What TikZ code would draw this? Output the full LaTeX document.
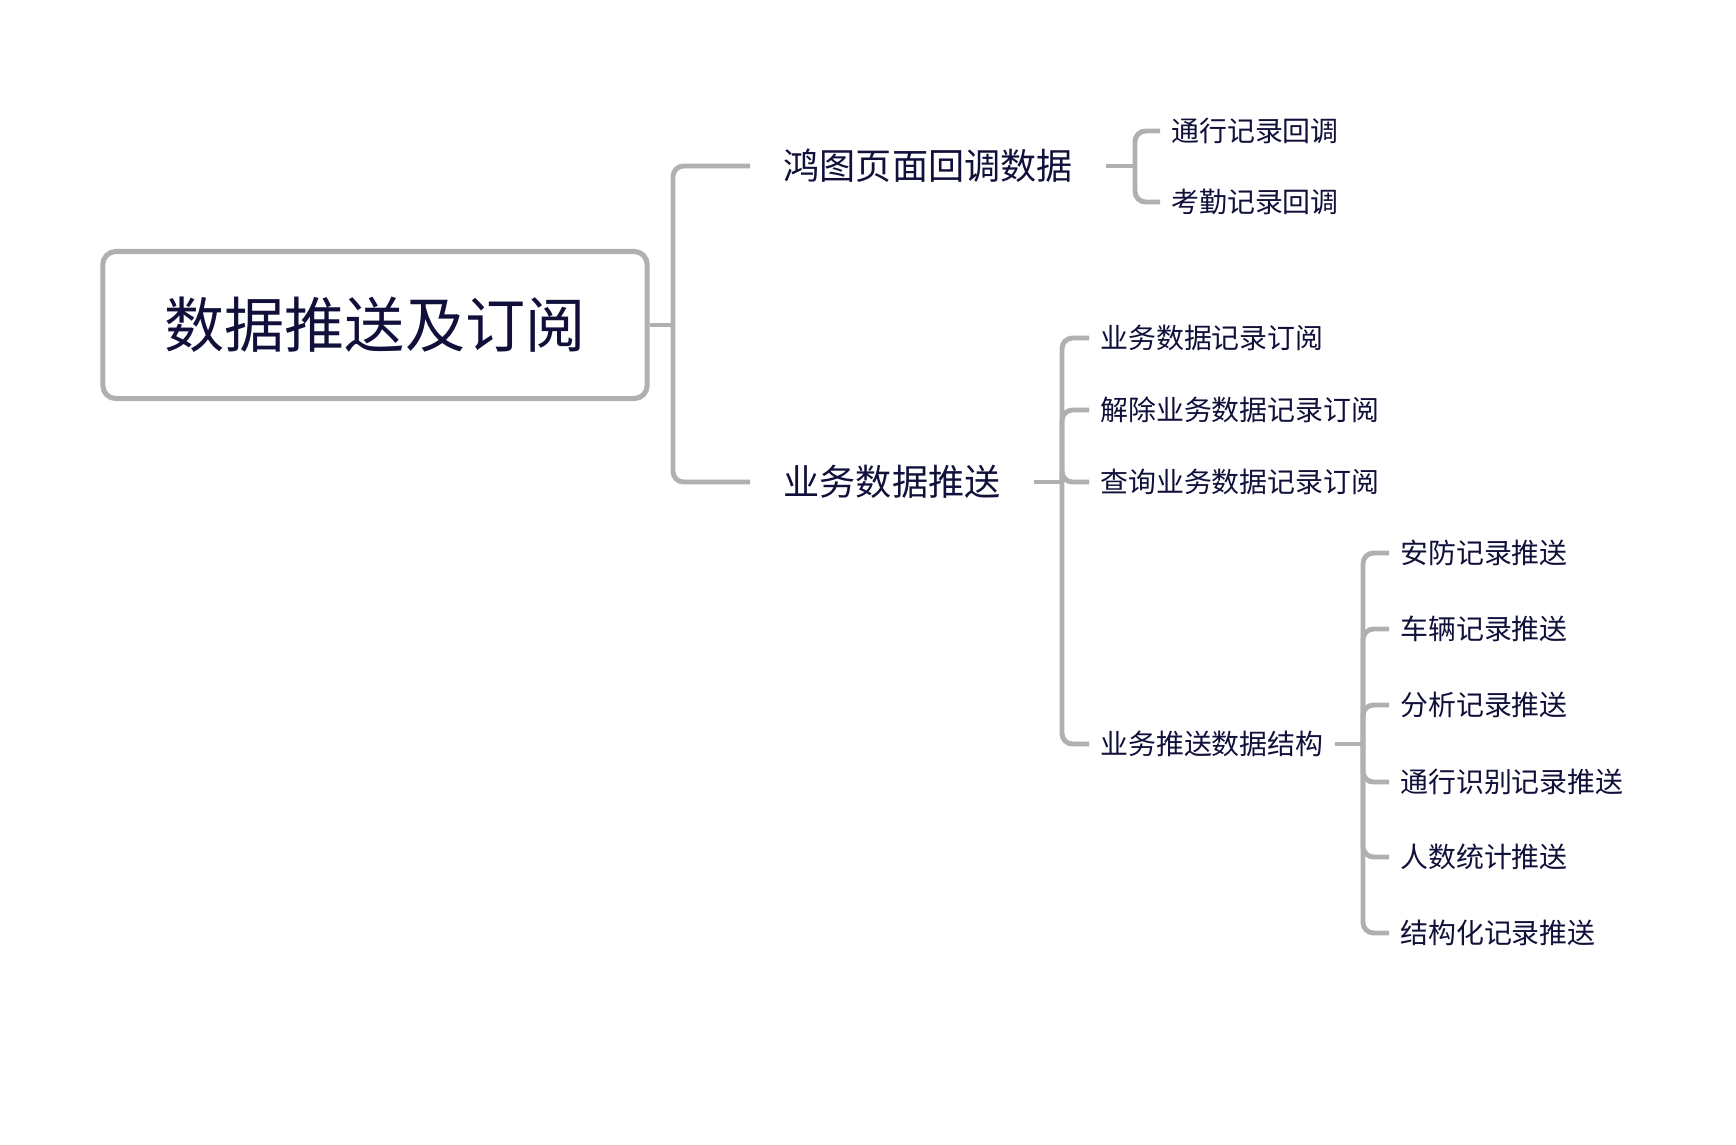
\documentclass[tikz,border=0pt]{standalone}
\usepackage{fontspec}
\setmainfont{Noto Sans CJK SC}
\definecolor{txt}{HTML}{10103A}
\definecolor{ln}{HTML}{B0B0B0}
\tikzset{
  conn/.style={draw=ln, line width=1.4pt, rounded corners=3pt},
  rootbox/.style={draw=ln, line width=1.45pt, rounded corners=3.7pt, fill=white,
    minimum width=5.44cm, minimum height=1.47cm, inner sep=0pt,
    font=\fontsize{17.1pt}{20pt}\selectfont, text=txt},
  lvlone/.style={anchor=west, inner xsep=9.4pt, inner ysep=0pt, text=txt,
    font=\fontsize{10.27pt}{12pt}\selectfont},
  lvltwo/.style={anchor=west, inner xsep=3pt, inner ysep=0pt, text=txt,
    font=\fontsize{7.94pt}{10pt}\selectfont},
}
\begin{document}
\begin{tikzpicture}[x=0.01cm, y=-0.01cm]
\useasboundingbox (0,0) rectangle (1736,1144);
\fill[white] (0,0) rectangle (1736,1144);

\node[rootbox] (root) at (375,325) {数据推送及订阅};

\coordinate (t0) at (673,325);
\coordinate (t1) at (1135,166);
\coordinate (t2) at (1062,482);
\coordinate (t24) at (1363,744);

\node[lvlone] (n1) at (750,166) {鸿图页面回调数据};
\node[lvlone] (n2) at (750,482) {业务数据推送};

\node[lvltwo] (n11) at (1160,131) {通行记录回调};
\node[lvltwo] (n12) at (1160,202) {考勤记录回调};

\node[lvltwo] (n21) at (1089,338) {业务数据记录订阅};
\node[lvltwo] (n22) at (1089,410) {解除业务数据记录订阅};
\node[lvltwo] (n23) at (1089,482) {查询业务数据记录订阅};
\node[lvltwo] (n24) at (1089,744) {业务推送数据结构};

\node[lvltwo] (m1) at (1389,553) {安防记录推送};
\node[lvltwo] (m2) at (1389,629) {车辆记录推送};
\node[lvltwo] (m3) at (1389,705) {分析记录推送};
\node[lvltwo] (m4) at (1389,782) {通行识别记录推送};
\node[lvltwo] (m5) at (1389,857) {人数统计推送};
\node[lvltwo] (m6) at (1389,933) {结构化记录推送};

% root connectors
\draw[conn] (root.east) -- (t0);
\draw[conn] (t0) |- (n1.west);
\draw[conn] (t0) |- (n2.west);

% n1 connectors
\draw[conn] (n1.east) -- (t1);
\draw[conn] (t1) |- (n11.west);
\draw[conn] (t1) |- (n12.west);

% n2 connectors
\draw[conn] (n2.east) -- (t2);
\draw[conn] (t2) |- (n21.west);
\draw[conn] (t2) |- (n22.west);
\draw[conn] (t2) |- (n23.west);
\draw[conn] (t2) |- (n24.west);

% n24 connectors
\draw[conn] (n24.east) -- (t24);
\draw[conn] (t24) |- (m1.west);
\draw[conn] (t24) |- (m2.west);
\draw[conn] (t24) |- (m3.west);
\draw[conn] (t24) |- (m4.west);
\draw[conn] (t24) |- (m5.west);
\draw[conn] (t24) |- (m6.west);
\end{tikzpicture}
\end{document}
